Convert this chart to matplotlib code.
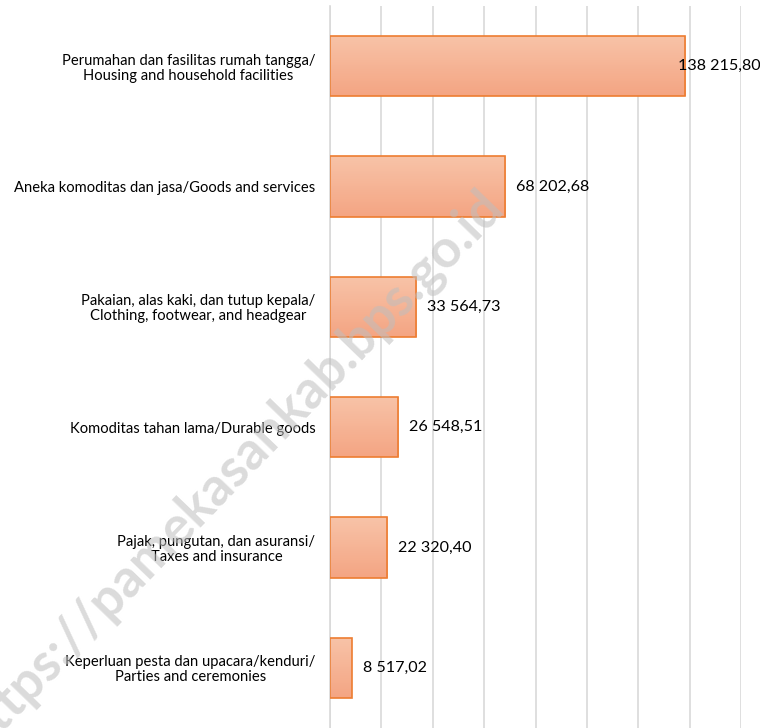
import numpy as np
import matplotlib.pyplot as plt
from matplotlib.colors import LinearSegmentedColormap

kategori = [
    "Perumahan dan fasilitas rumah tangga/\nHousing and household facilities",
    "Aneka komoditas dan jasa/Goods and services",
    "Pakaian, alas kaki, dan tutup kepala/\nClothing, footwear, and headgear",
    "Komoditas tahan lama/Durable goods",
    "Pajak, pungutan, dan asuransi/\nTaxes and insurance",
    "Keperluan pesta dan upacara/kenduri/\nParties and ceremonies",
]
nilai = [138215.80, 68202.68, 33564.73, 26548.51, 22320.40, 8517.02]
label_nilai = ["138 215,80", "68 202,68", "33 564,73", "26 548,51", "22 320,40", "8 517,02"]

plt.rcParams['font.family'] = ['Lato', 'DejaVu Sans']

fig = plt.figure(figsize=(7.6, 7.28), dpi=100)
ax = fig.add_axes([330 / 760, 0, 411 / 760, 1 - 6 / 728])

grad = LinearSegmentedColormap.from_list('g', ['#F8C3A8', '#F4A583'])
gimg = np.linspace(0, 1, 64).reshape(-1, 1)
tinggi = 0.5

y = np.arange(len(nilai))
bars = ax.barh(y, nilai, height=tinggi, color='none', edgecolor='#ED7D31', linewidth=1.2, zorder=3)
for b in bars:
    x0, y0 = b.get_x(), b.get_y()
    w, h = b.get_width(), b.get_height()
    im = ax.imshow(gimg, cmap=grad, aspect='auto', extent=[x0, x0 + w, y0 + h, y0],
                   origin='upper', zorder=2)
    im.set_clip_path(b)

for i, (v, t) in enumerate(zip(nilai, label_nilai)):
    dx = -7 if i == 0 else 11
    ax.annotate(t, (v, i), xytext=(dx, 0), textcoords='offset pixels',
                ha='left', va='center', fontsize=11.6, zorder=4)

ax.set_xlim(0, 160000)
ax.set_ylim(5.5, -0.5)
ax.set_xticks(np.arange(0, 160001, 20000))
ax.xaxis.grid(True, color='#D9D9D9', linewidth=1.2, zorder=0)
ax.set_axisbelow(True)
ax.tick_params(axis='x', bottom=False, labelbottom=False)
ax.set_yticks(y)
ax.set_yticklabels(kategori, fontsize=10.6, ha='right', multialignment='center',
                   linespacing=1.1)
ax.tick_params(axis='y', left=False, pad=7)
for s in ['top', 'right', 'bottom']:
    ax.spines[s].set_visible(False)
ax.spines['left'].set_color('#D9D9D9')
ax.spines['left'].set_linewidth(1.2)

# watermark
fig.text(0.305, 0.355, "https://pamekasankab.bps.go.id", fontsize=38, color='#BEBEBE',
         alpha=0.55, rotation=46, ha='center', va='center', fontweight='bold')

fig.savefig('out.png', dpi=100)
